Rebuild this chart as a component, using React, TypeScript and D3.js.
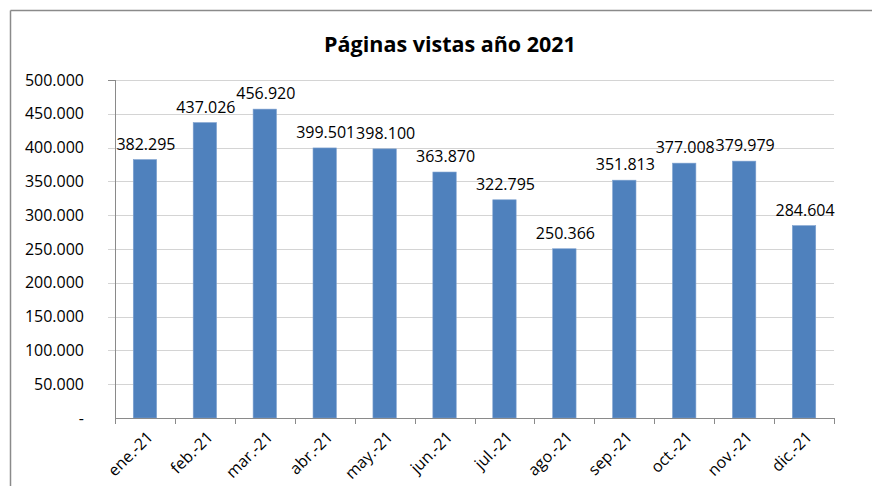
import React from "react";
import * as d3 from "d3";

const months = ["ene.-21", "feb.-21", "mar.-21", "abr.-21", "may.-21", "jun.-21", "jul.-21", "ago.-21", "sep.-21", "oct.-21", "nov.-21", "dic.-21"];
const views = [382295, 437026, 456920, 399501, 398100, 363870, 322795, 250366, 351813, 377008, 379979, 284604];
const yTicks = [0, 50000, 100000, 150000, 200000, 250000, 300000, 350000, 400000, 450000, 500000];
const title = "Páginas vistas año 2021";

const W = 872, H = 486;
const left = 115, right = 834, top = 80, bottom = 418;
const FONT = "'Open Sans', 'Liberation Sans', sans-serif";

function fmt(v: number) {
  if (v === 0) return "-";
  const s = Math.round(v).toString();
  return s.replace(/\B(?=(\d{3})+(?!\d))/g, ".");
}

export default function App() {
  const x = d3.scaleBand<string>().domain(months).range([left, right]).paddingInner(0).paddingOuter(0);
  const y = d3.scaleLinear().domain([0, 500000]).range([bottom, top]);
  const bw = x.bandwidth() * 0.39;
  return (
    <svg width={W} height={H} style={{ position: "absolute", left: 0, top: 0, background: "#fff" }}>
      <rect x={0} y={0} width={W} height={H} fill="#fff" />
      <line x1={10.5} y1={10.5} x2={W} y2={10.5} stroke="#8a8a8a" strokeWidth={1.5} />
      <line x1={10.5} y1={10.5} x2={10.5} y2={H} stroke="#8a8a8a" strokeWidth={1.5} />
      <text x={450} y={51.5} textAnchor="middle" fontFamily={FONT} fontWeight="bold" fontSize={21.5} fill="#000">{title}</text>
      {yTicks.map((t) => (
        <g key={t}>
          {t > 0 && <line x1={108} x2={right} y1={Math.round(y(t)) + 0.5} y2={Math.round(y(t)) + 0.5} stroke="#d4d4d4" strokeWidth={1} />}
          <text x={84} y={y(t)} dy="0.35em" textAnchor="end" fontFamily={FONT} fontSize={16} fill="#000">{fmt(t)}</text>
        </g>
      ))}
      <line x1={108} x2={left} y1={Math.round(y(500000)) + 0.5} y2={Math.round(y(500000)) + 0.5} stroke="#8a8a8a" />
      {views.map((v, i) => {
        const cx = x(months[i])! + x.bandwidth() / 2;
        return (
          <g key={months[i]}>
            <rect x={cx - bw / 2} y={y(v)} width={bw} height={bottom - y(v)} fill="#4f81bd" stroke="#7fa2d0" strokeWidth={0.6} />
            <text x={cx + 1} y={y(v) - 10} textAnchor="middle" fontFamily={FONT} fontSize={16} fill="#000">{fmt(v)}</text>
          </g>
        );
      })}
      <line x1={left + 0.5} x2={left + 0.5} y1={top} y2={bottom} stroke="#8a8a8a" />
      <line x1={left} x2={right} y1={bottom + 0.5} y2={bottom + 0.5} stroke="#8a8a8a" />
      {months.concat([""]).map((m, i) => {
        const tx = Math.round(left + i * x.step()) + 0.5;
        return <line key={"t" + i} x1={tx} x2={tx} y1={bottom} y2={bottom + 6} stroke="#8a8a8a" />;
      })}
      {months.map((m) => {
        const cx = x(m)! + x.bandwidth() / 2;
        return (
          <text key={"l" + m} transform={`translate(${cx + 9},${bottom + 20}) rotate(-45)`} textAnchor="end" fontFamily={FONT} fontSize={16} fill="#000">{m}</text>
        );
      })}
    </svg>
  );
}
